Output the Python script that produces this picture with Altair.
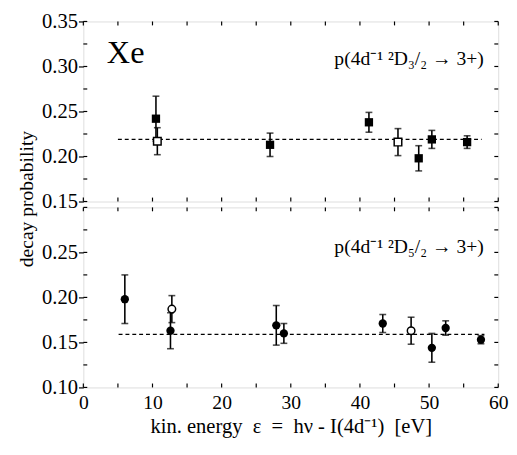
import altair as alt
import pandas as pd

FONT = "Liberation Serif"

# ---- top panel: p(4d-1 2D3/2 -> 3+) ----
top_x = [10.5, 27.0, 41.3, 48.5, 50.4, 55.5]
top_y = [0.242, 0.213, 0.238, 0.198, 0.219, 0.216]
top_err = [0.025, 0.013, 0.011, 0.014, 0.010, 0.007]
top_open_x = [10.7, 45.5]
top_open_y = [0.217, 0.216]
top_open_err = [0.015, 0.015]
top_mean = 0.219
top_mean_x = [5.0, 57.6]

# ---- bottom panel: p(4d-1 2D5/2 -> 3+) ----
bot_x = [6.0, 12.6, 27.9, 29.0, 43.3, 50.4, 52.4, 57.5]
bot_y = [0.198, 0.163, 0.169, 0.160, 0.171, 0.144, 0.166, 0.153]
bot_err = [0.027, 0.020, 0.022, 0.011, 0.010, 0.016, 0.008, 0.0045]
bot_open_x = [12.8, 47.4]
bot_open_y = [0.187, 0.163]
bot_open_err = [0.015, 0.015]
bot_mean = 0.159
bot_mean_x = [5.1, 58.0]

top_domain = [0.15, 0.35]
bot_domain = [0.10, 0.30]
top_labels = [0.15, 0.20, 0.25, 0.30, 0.35]
bot_labels = [0.10, 0.15, 0.20, 0.25]
x_labels = [0, 10, 20, 30, 40, 50, 60]
x_ticks = [0, 5, 10, 15, 20, 25, 30, 35, 40, 45, 50, 55, 60]
top_minor = [0.15, 0.175, 0.2, 0.225, 0.25, 0.275, 0.3, 0.325, 0.35]
bot_minor = [0.10, 0.125, 0.15, 0.175, 0.2, 0.225, 0.25, 0.275, 0.3]

top_label = "p(4d\u207b\u00b9 \u00b2D\u2083/\u2082 \u2192 3+)"
bot_label = "p(4d\u207b\u00b9 \u00b2D\u2085/\u2082 \u2192 3+)"
x_title = "kin. energy \u00a0\u03b5 \u00a0= \u00a0h\u03bd - I(4d\u207b\u00b9) \u00a0[eV]"
y_title = "decay probability"

W, H = 424, 184


def panel(fx, fy, fe, ox, oy, oe, mean, mean_x, ydom, ylabels, yminor,
          shape, label, label_y, show_x, extra_text=None):
    xaxis = None
    if show_x:
        xaxis = alt.Axis(values=x_labels, format="d", ticks=False, domain=False,
                         grid=False, labelFont=FONT, labelFontSize=20,
                         labelColor="black", labelPadding=6, title=x_title,
                         titleFont=FONT, titleFontSize=21, titleFontWeight="normal",
                         titleColor="black", titlePadding=3, labelFlush=False)
    yaxis_kwargs = dict(values=ylabels, format=".2f", tickSize=5, tickColor="black",
                        tickWidth=1.2, domain=False, grid=False, labelFont=FONT,
                        labelFontSize=21, labelColor="black", labelPadding=1)
    if show_x:
        yaxis = alt.Axis(title=None, **yaxis_kwargs)
    else:
        yaxis = alt.Axis(title=y_title, titleFont=FONT, titleFontSize=20,
                         titleFontWeight="normal", titleColor="black",
                         titleX=-58, titleY=H - 3, titleAngle=-90,
                         titleBaseline="middle", titleAlign="center",
                         **yaxis_kwargs)
    xs = alt.Scale(domain=[0, 60], nice=False)
    ys = alt.Scale(domain=ydom, nice=False)
    X = lambda f: alt.X(f"{f}:Q", scale=xs, axis=xaxis, title=x_title if show_x else None)
    Y = lambda f: alt.Y(f"{f}:Q", scale=ys, axis=yaxis, title=None if show_x else y_title)

    filled = pd.DataFrame({"x": fx, "y": fy, "e": fe})
    filled["lo"] = filled.y - filled.e
    filled["hi"] = filled.y + filled.e
    opened = pd.DataFrame({"x": ox, "y": oy, "e": oe})
    opened["lo"] = opened.y - opened.e
    opened["hi"] = opened.y + opened.e
    allpts = pd.concat([filled, opened])

    mean_df = pd.DataFrame({"x": [mean_x[0]], "x2": [mean_x[1]], "y": [mean]})
    xt = pd.DataFrame({"x": x_ticks})
    yt = pd.DataFrame({"y": yminor})

    layers = []
    layers.append(alt.Chart(mean_df).mark_rule(color="black", strokeWidth=1.2,
                                               strokeDash=[4, 3]).encode(
        x=X("x"), x2="x2:Q", y=Y("y")))
    layers.append(alt.Chart(allpts).mark_rule(color="black", strokeWidth=1.6).encode(
        x=X("x"), y=Y("lo"), y2="hi:Q"))
    for f in ["lo", "hi"]:
        layers.append(alt.Chart(allpts).mark_tick(color="black", orient="horizontal",
                                                  size=7, thickness=1.6).encode(
            x=X("x"), y=Y(f)))
    layers.append(alt.Chart(filled).mark_point(shape=shape, filled=True, size=72,
                                               color="black", opacity=1).encode(
        x=X("x"), y=Y("y")))
    layers.append(alt.Chart(opened).mark_point(shape=shape, filled=True, size=60,
                                               fill="white", stroke="black",
                                               strokeWidth=1.5, opacity=1).encode(
        x=X("x"), y=Y("y")))
    # inward ticks
    layers.append(alt.Chart(xt).mark_rule(color="black", strokeWidth=1.2).encode(
        x=X("x"), y=alt.value(H), y2=alt.value(H - 4)))
    layers.append(alt.Chart(xt).mark_rule(color="black", strokeWidth=1.2).encode(
        x=X("x"), y=alt.value(0), y2=alt.value(4)))
    layers.append(alt.Chart(yt).mark_rule(color="black", strokeWidth=1.2).encode(
        y=Y("y"), x=alt.value(0), x2=alt.value(4)))
    layers.append(alt.Chart(yt).mark_rule(color="black", strokeWidth=1.2).encode(
        y=Y("y"), x=alt.value(W), x2=alt.value(W - 4)))
    # label
    lab = pd.DataFrame({"x": [57.9], "y": [label_y], "t": [label]})
    layers.append(alt.Chart(lab).mark_text(align="right", baseline="alphabetic",
                                           font=FONT, fontSize=20, color="black").encode(
        x=X("x"), y=Y("y"), text="t:N"))
    if extra_text is not None:
        et = pd.DataFrame({"x": [extra_text[0]], "y": [extra_text[1]], "t": [extra_text[2]]})
        layers.append(alt.Chart(et).mark_text(align="left", baseline="alphabetic",
                                              font=FONT, fontSize=33, color="black").encode(
            x=X("x"), y=Y("y"), text="t:N"))
    return alt.layer(*layers).properties(width=W, height=H)


top = panel(top_x, top_y, top_err, top_open_x, top_open_y, top_open_err,
            top_mean, top_mean_x, top_domain, top_labels, top_minor,
            "square", top_label, 0.302, False, extra_text=(3.4, 0.304, "Xe"))
bot = panel(bot_x, bot_y, bot_err, bot_open_x, bot_open_y, bot_open_err,
            bot_mean, bot_mean_x, bot_domain, bot_labels, bot_minor,
            "circle", bot_label, 0.249, True)

chart = alt.vconcat(top, bot, spacing=6, bounds="flush").properties(
    padding={"left": 8, "top": -3, "right": 0, "bottom": 0}
).configure_view(stroke="black", strokeWidth=1.3).configure(
    background="white", font=FONT
).configure_axis(labelFont=FONT, titleFont=FONT)

chart.save("out.html", embed_options={"renderer": "svg", "actions": False})
